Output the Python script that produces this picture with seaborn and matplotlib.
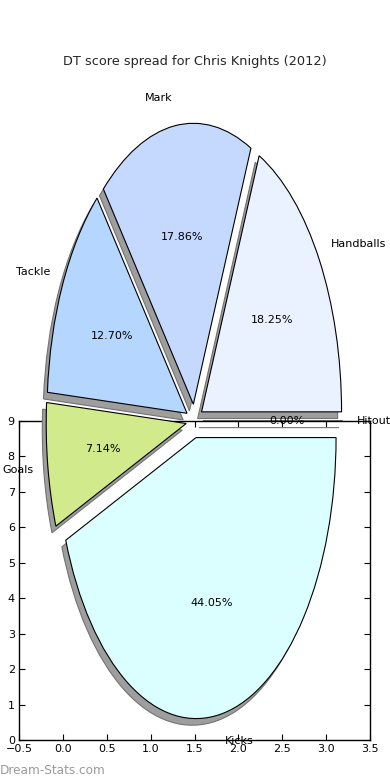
import matplotlib
matplotlib.use("Agg")
import matplotlib.pyplot as plt
import seaborn as sns
import numpy as np

sns.set_theme(style="ticks")
plt.rcParams['font.family'] = ['DejaVu Sans']

# DT points per stat (kick 3, handball 2, mark 3, tackle 4, goal 6, hitout 1)
categories = ["Hitout", "Handballs", "Mark", "Tackle", "Goals", "Kicks"]
dt_points = [0, 46, 45, 32, 18, 111]
colours = ["#ffffff", "#eaf1ff", "#c5d9ff", "#b5d6ff", "#d1eb8c", "#dbffff"]
explode = [0.06] * len(categories)

title = "DT score spread for Chris Knights (2012)"

fig = plt.figure(figsize=(3.9, 7.8), dpi=100)
fig.patch.set_facecolor("white")

# leftover frame axes from the old-style plot
ax = fig.add_axes([19 / 390, 40 / 780, 351 / 390, 319 / 780])
ax.set_facecolor("none")
ax.set_xlim(-0.5, 3.5)
ax.set_ylim(0, 9)
ax.set_xticks(np.arange(-0.5, 3.51, 0.5))
ax.set_yticks(np.arange(0, 10, 1))
ax.tick_params(direction="in", top=True, right=True, length=4, width=0.8,
               labelsize=8, colors="black", pad=3)
for s in ax.spines.values():
    s.set_linewidth(1.0)
    s.set_color("black")

# pie axes over the whole figure, stretched (non-equal aspect)
pax = fig.add_axes([0, 0, 1, 1])
pax.set_facecolor("none")
wedges, texts, autotexts = pax.pie(
    dt_points, labels=categories, colors=colours, explode=explode,
    autopct="%.2f%%", startangle=0, counterclock=True,
    shadow={"ox": -0.02, "oy": -0.017, "facecolor": "0.62", "edgecolor": "0.45",
            "alpha": 1.0},
    wedgeprops={"edgecolor": "black", "linewidth": 0.8},
    textprops={"fontsize": 8, "color": "black"},
)
pax.set_aspect("auto")
cx, cy, rx, ry = 194.5, 359.0, 140.0, 281.0
pax.set_xlim(-cx / rx, (390 - cx) / rx)
pax.set_ylim(-cy / ry, (780 - cy) / ry)
pax.axis("off")

fig.text(0.5, 1 - 61 / 780, title, ha="center", va="center", fontsize=9.3)
fig.text(0.0, 1 - 770 / 780, "Dream-Stats.com", ha="left", va="center",
         fontsize=8.7, color="#9a9a9a")

fig.savefig("out.png", dpi=100)
